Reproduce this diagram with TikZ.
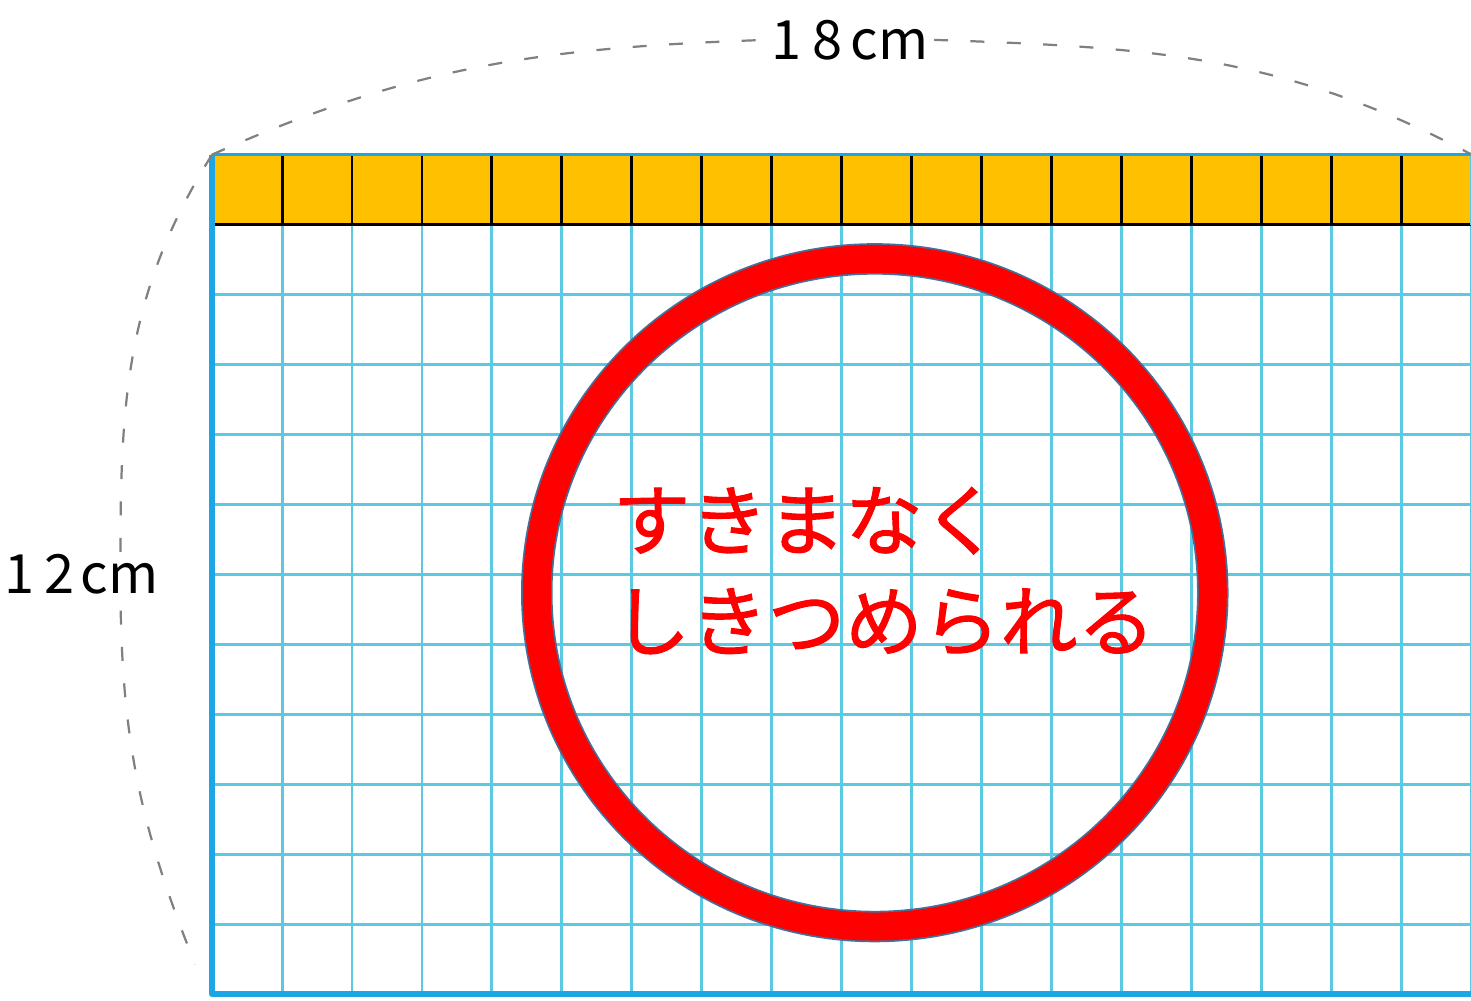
\documentclass[tikz,border=0pt]{standalone}
\usepackage{fontspec}
\newfontfamily\jp{Noto Sans CJK JP}
\newfontfamily\jpbold[FakeBold=1.3]{Noto Sans CJK JP}
\usepackage{tikz}
\usetikzlibrary{positioning}
\definecolor{gridcyan}{HTML}{5CC9E2}
\definecolor{framebl}{HTML}{1CA6E6}
\definecolor{tileor}{HTML}{FFC000}
\definecolor{ringedge}{HTML}{41719C}
\tikzstyle{gridline} = [gridcyan, line width=1.2pt]
\tikzstyle{frame} = [framebl, line width=2.4pt, line join=round]
\tikzstyle{tileline} = [black, line width=1.2pt]
\tikzstyle{dimline} = [gray, line width=0.9pt, dash pattern=on 0.2cm off 0.32cm]
\tikzstyle{dimlabel} = [fill=white, inner sep=2pt, font=\jp\fontsize{22}{22}\selectfont]
\tikzstyle{redtext} = [red, inner sep=0pt, anchor=base west, font=\jpbold\fontsize{31.5}{31.5}\selectfont]

\begin{document}
\begin{tikzpicture}
    \useasboundingbox (-3.03,-0.09) rectangle (17.99,14.21);

    % 18 x 12 grid, top row filled with tiles
    \draw[gridline] (0,0) grid (18,11);
    \fill[tileor] (0,11) rectangle (18,12);
    \draw[tileline] (0,11) grid (18,12);
    \draw[framebl, line width=1pt] (0,12) -- (18,12);
    \draw[gridline] (18,11) -- (18,12);
    \draw[frame] (0,12) -- (0,0) -- (18,0);

    % corners used by the dimension arcs
    \coordinate (tl) at (0,12);
    \coordinate (tr) at (18,12);
    \coordinate (lmid) at (-1.31,6.0);
    \coordinate (lend) at (-0.24,0.43);

    % dimension labels
    \node[dimlabel] (len18) at (9.12,13.64) {1\kern0.2em8\kern0.15em cm};
    \draw[dimline] (tl) to[out=24, in=182] (len18.west);
    \draw[dimline] (len18.east) to[out=-2, in=152] (tr);

    \draw[dimline] (tl) to[out=238, in=90] (lmid) to[out=-90, in=112] (lend);
    \node[dimlabel, inner sep=1pt] (len12) at (-1.87,6.0) {1\kern0.2em2\kern0.1em cm};

    % red ring and text
    \coordinate (c) at (9.47,5.74);
    \draw[ringedge, line width=0.45cm] (c) ellipse [x radius=4.83, y radius=4.77];
    \draw[red, line width=0.4cm] (c) ellipse [x radius=4.83, y radius=4.77];

    \node[redtext] (line1) at (5.72,6.36) {すきまなく};
    \node[redtext] (line2) at (5.72,4.92) {しきつめられる};

\end{tikzpicture}
\end{document}
